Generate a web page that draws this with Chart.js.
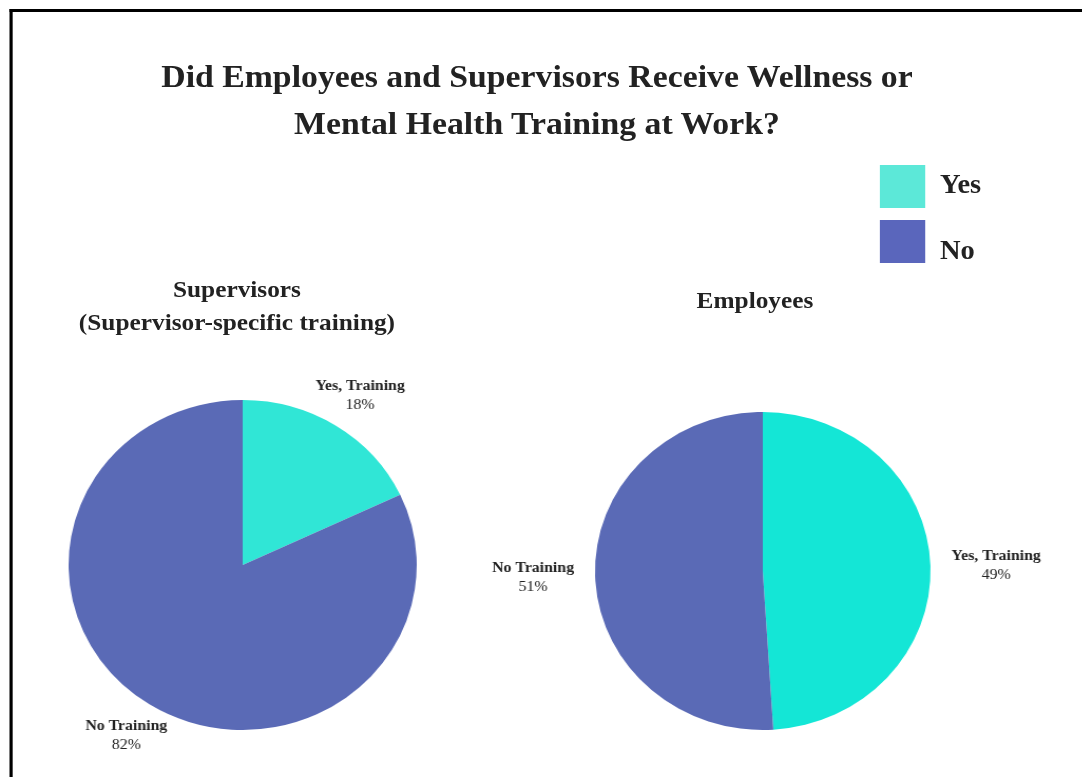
<!DOCTYPE html>
<html>
<head>
<meta charset="utf-8">
<script src="https://cdn.jsdelivr.net/npm/chart.js@4/dist/chart.umd.min.js"></script>
<style>
  body { margin: 0; background: #fff; width: 1082px; height: 777px; overflow: hidden; position: relative;
         font-family: "Liberation Serif", "Times New Roman", serif; color: #222; }
  /* the whole figure is laid out a bit narrower and then widened */
  #figure { position: absolute; left: 0; top: 0; width: 1026px; height: 777px;
            transform: scaleX(1.055); transform-origin: 0 0; }
  .frame { position: absolute; left: 8.5px; top: 9px; width: 1100px; height: 800px;
           border-left: 3px solid #000; border-top: 3px solid #000; }
  .txt { position: absolute; font-weight: bold; white-space: nowrap; transform: translate(-50%, -50%); text-align: center; }
  .swatch { position: absolute; width: 42.7px; height: 43px; }
  .pie { position: absolute; }
</style>
</head>
<body>
<div id="figure">
  <div class="frame"></div>

  <div class="txt" id="mainTitle" style="left:509px; top:100px; font-size:32px; line-height:47px;"></div>
  <div class="txt" id="supTitle" style="left:224.6px; top:306px; font-size:24px; line-height:33px;"></div>
  <div class="txt" id="empTitle" style="left:715.6px; top:300px; font-size:24px;"></div>
  <div id="legend"></div>

  <div class="pie" style="left:10.3px; top:360px; width:440px; height:410px;"><canvas id="supervisores"></canvas></div>
  <div class="pie" style="left:443.2px; top:371px; width:560px; height:400px;"><canvas id="empregados"></canvas></div>
</div>

<script>
const titleLines = ['Did Employees and Supervisors Receive Wellness or', 'Mental Health Training at Work?'];
const supervisorTitle = ['Supervisors', '(Supervisor-specific training)'];
const employeeTitle = ['Employees'];

const categories = ['Yes', 'No'];
const sliceNames = ['Yes, Training', 'No Training'];
const supervisorValues = [18, 82];
const employeeValues = [49, 51];

const legendColors = ['#5ce8d8', '#5a66bc'];
const supervisorColors = ['#30e6d6', '#5a6ab6'];
const employeeColors = ['#14e6d6', '#5a6ab6'];

document.querySelector('#mainTitle').innerHTML = titleLines.join('<br>');
document.querySelector('#supTitle').innerHTML = supervisorTitle.join('<br>');
document.querySelector('#empTitle').innerHTML = employeeTitle.join('<br>');

// legend boxes on the top right
const legend = document.querySelector('#legend');
categories.forEach((cat, i) => {
  const box = document.createElement('div');
  box.className = 'swatch';
  box.style.left = '834px';
  box.style.top = (165 + i * 55) + 'px';
  box.style.background = legendColors[i];
  legend.appendChild(box);
  const lab = document.createElement('div');
  lab.className = 'txt';
  lab.style.fontSize = '27px';
  lab.style.transform = 'translate(0, -50%)';
  lab.style.left = '891px';
  lab.style.top = (184 + i * 66) + 'px';
  lab.textContent = cat;
  legend.appendChild(lab);
});

// draws "name / percent" outside each slice, along its middle angle
const outsideLabels = {
  id: 'outsideLabels',
  afterDraw(chart) {
    const ctx = chart.ctx;
    const meta = chart.getDatasetMeta(0);
    const values = chart.data.datasets[0].data;
    const total = values.reduce((a, b) => a + b, 0);
    meta.data.forEach((arc, i) => {
      const mid = (arc.startAngle + arc.endAngle) / 2;
      const dx = Math.cos(mid), dy = Math.sin(mid);
      const name = chart.data.labels[i];
      const pct = Math.round(values[i] / total * 100) + '%';
      ctx.save();
      ctx.font = 'bold 15px "Liberation Serif"';
      const w = ctx.measureText(name).width;
      const h = 38;
      const r = arc.outerRadius + 20;
      const cx = arc.x + dx * r + dx * Math.abs(dx) * w / 2;
      const cy = arc.y + dy * r + dy * Math.abs(dy) * h / 2;
      ctx.fillStyle = '#222';
      ctx.textAlign = 'center';
      ctx.textBaseline = 'middle';
      ctx.fillText(name, cx, cy - 9);
      ctx.font = '15px "Liberation Serif"';
      ctx.fillText(pct, cx, cy + 10);
      ctx.restore();
    });
  }
};

function pieChart(id, values, colors, padding) {
  new Chart(document.querySelector(id).getContext('2d'), {
    type: 'pie',
    data: {
      labels: sliceNames,
      datasets: [{
        data: values,
        backgroundColor: colors,
        borderWidth: 0
      }]
    },
    options: {
      responsive: true,
      maintainAspectRatio: false,
      animation: false,
      layout: { padding: padding },
      plugins: { legend: { display: false }, tooltip: { enabled: false } }
    },
    plugins: [outsideLabels]
  });
}

pieChart('#supervisores', supervisorValues, supervisorColors, { left: 55, right: 55, top: 40, bottom: 40 });
pieChart('#empregados', employeeValues, employeeColors, { left: 121, right: 121, top: 41, bottom: 41 });
</script>
</body>
</html>
